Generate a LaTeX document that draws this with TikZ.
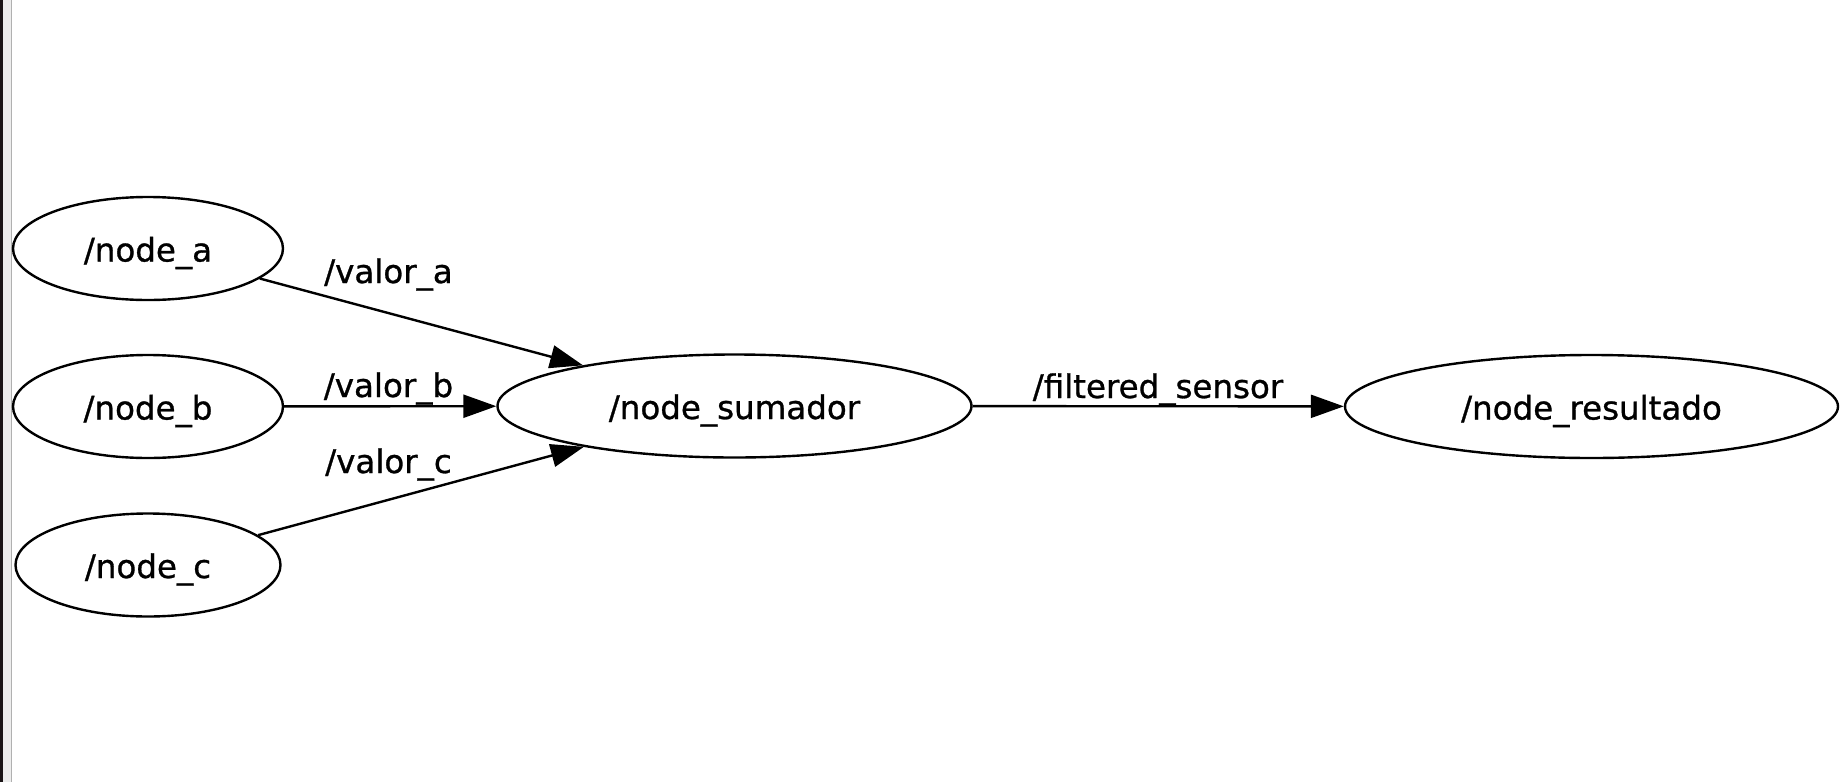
\documentclass[tikz,border=0pt]{standalone}
\usepackage{fontspec}
\setmainfont{DejaVu Sans}
\newfontface\graphfont{DejaVu Sans}[FakeBold=0.9]
\usepackage{xcolor}
\usetikzlibrary{arrows.meta,shapes.geometric}
\definecolor{ink}{HTML}{000000}
\definecolor{frame}{HTML}{1A1416}
\definecolor{panel}{HTML}{ECECEC}
\definecolor{edge}{HTML}{B0B0B0}
\tikzset{
  rosnode/.style={ellipse, draw=ink, line width=2.4pt, inner sep=0pt,
    minimum height=103pt, text height=26pt, text depth=0pt,
    font=\graphfont\fontsize{32.5}{38}\selectfont},
  topic/.style={-{Triangle[length=33pt, width=23pt]}, line width=2.4pt, draw=ink},
  lab/.style={anchor=base, font=\graphfont\fontsize{32.5}{38}\selectfont}
}
\begin{document}
\begin{tikzpicture}[x=1pt, y=-1pt]
  \useasboundingbox[fill=white] (0,0) rectangle (1840,782);
  % window edge on the left
  \fill[frame] (0,0) rectangle (2.5,782);
  \fill[panel] (2.5,0) rectangle (10.5,782);
  \fill[edge] (10.5,0) rectangle (12,782);

  \node[rosnode, minimum width=270pt] (nodeA) at (148,248.5) {/node\_a};
  \node[rosnode, minimum width=270pt] (nodeB) at (148,406.5) {/node\_b};
  \node[rosnode, minimum width=265pt] (nodeC) at (148,565) {/node\_c};
  \node[rosnode, minimum width=474pt] (sum) at (734.5,406) {/node\_sumador};
  \node[rosnode, minimum width=493pt] (res) at (1591.5,406.5) {/node\_resultado};

  \draw[topic] (nodeA) -- (sum);
  \draw[topic] (nodeB) -- (sum);
  \draw[topic] (nodeC) -- (sum);
  \draw[topic] (sum) -- (res);

  \node[lab] (topicA) at (388.5,283) {/valor\_a};
  \node[lab] (topicB) at (388.5,397) {/valor\_b};
  \node[lab] (topicC) at (388.5,473) {/valor\_c};
  \node[lab] (topicF) at (1158,398) {/filtered\_sensor};
\end{tikzpicture}
\end{document}
